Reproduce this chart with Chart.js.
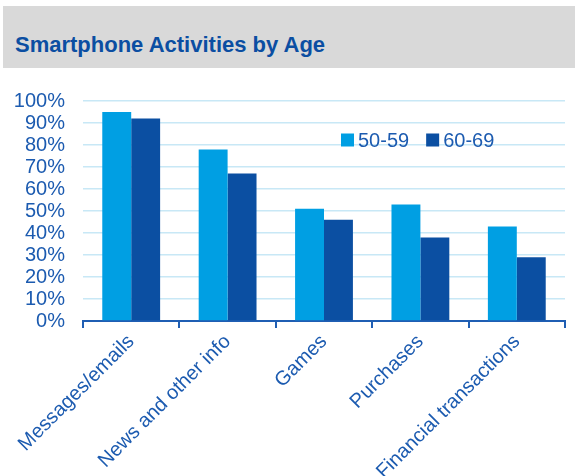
<!DOCTYPE html>
<html>
<head>
<meta charset="utf-8">
<script src="https://cdn.jsdelivr.net/npm/chart.js@4.4.1/dist/chart.umd.min.js"></script>
<style>
    body { margin: 0; background: #fff; font-family: "Liberation Sans", Arial, sans-serif; }
    #banner {
        position: absolute; left: 3px; top: 6px; width: 572px; height: 62px;
        background: #d9d9d9;
    }
    #banner h1 {
        margin: 0; position: absolute; left: 12px; top: 26px;
        font: bold 22px "Liberation Sans", Arial, sans-serif; color: #0b4ea2;
        line-height: 26px;
    }
    #wrap { position: absolute; left: 0; top: 0; width: 575px; height: 476px; }
</style>
</head>
<body>
<div id="banner"><h1>Smartphone Activities by Age</h1></div>
<div id="wrap"><canvas id="ageChart"></canvas></div>
<script>
// 카테고리 / 시리즈 값
const categories = ["Messages/emails", "News and other info", "Games", "Purchases", "Financial transactions"];
const seriesNames = ["50-59", "60-69"];
const values5059 = [95, 78, 51, 53, 43];
const values6069 = [92, 67, 46, 38, 29];
const yTicks = [0, 10, 20, 30, 40, 50, 60, 70, 80, 90, 100];

const textBlue = "#1c5bb0";
const axisBlue = "#1f5eb3";

// 범례를 차트 영역 안에 직접 그림
const insideLegend = {
    id: "insideLegend",
    afterDraw(chart) {
        const ctx = chart.ctx;
        ctx.save();
        ctx.font = "20px 'Liberation Sans', Arial, sans-serif";
        ctx.textBaseline = "middle";
        let x = 341;
        const y = 140;
        chart.data.datasets.forEach((ds) => {
            ctx.fillStyle = ds.backgroundColor;
            ctx.fillRect(x, y - 6.5, 13, 13);
            ctx.fillStyle = textBlue;
            ctx.fillText(ds.label, x + 17, y + 1);
            x += 17 + ctx.measureText(ds.label).width + 17;
        });
        ctx.restore();
    },
};

const ctxAge = document.getElementById("ageChart").getContext("2d");

const ageChart = new Chart(ctxAge, {
    type: "bar",
    data: {
        labels: categories,
        datasets: [
            {
                label: seriesNames[0],
                data: values5059,
                backgroundColor: "#009fe3",
                categoryPercentage: 0.6,
                barPercentage: 1.0,
            },
            {
                label: seriesNames[1],
                data: values6069,
                backgroundColor: "#0b4fa2",
                categoryPercentage: 0.6,
                barPercentage: 1.0,
            },
        ],
    },
    plugins: [insideLegend],
    options: {
        responsive: true,
        maintainAspectRatio: false,
        animation: false,
        layout: {
            padding: { top: 101, right: 10, left: 0, bottom: 0 },
        },
        plugins: {
            legend: { display: false },
            tooltip: { enabled: false },
        },
        scales: {
            x: {
                grid: {
                    drawOnChartArea: false,
                    color: axisBlue,
                    tickLength: 7,
                    lineWidth: 2,
                },
                border: { color: axisBlue, width: 2 },
                ticks: {
                    color: textBlue,
                    font: { size: 20, family: "'Liberation Sans', Arial, sans-serif" },
                    maxRotation: 45,
                    minRotation: 45,
                    padding: 2,
                },
                afterFit: (scale) => {
                    scale.height = 155;
                },
            },
            y: {
                min: 0,
                max: 100,
                afterBuildTicks: (scale) => {
                    scale.ticks = yTicks.map((v) => ({ value: v }));
                },
                grid: {
                    color: "#c8e8f6",
                    drawTicks: false,
                    lineWidth: 1.5,
                },
                border: { display: false },
                ticks: {
                    color: textBlue,
                    font: { size: 20, family: "'Liberation Sans', Arial, sans-serif" },
                    padding: 18,
                    autoSkip: false,
                    stepSize: 10,
                    callback: (value) => `${value}%`,
                },
                afterFit: (scale) => {
                    scale.width = 83;
                },
            },
        },
    },
});
</script>
</body>
</html>
